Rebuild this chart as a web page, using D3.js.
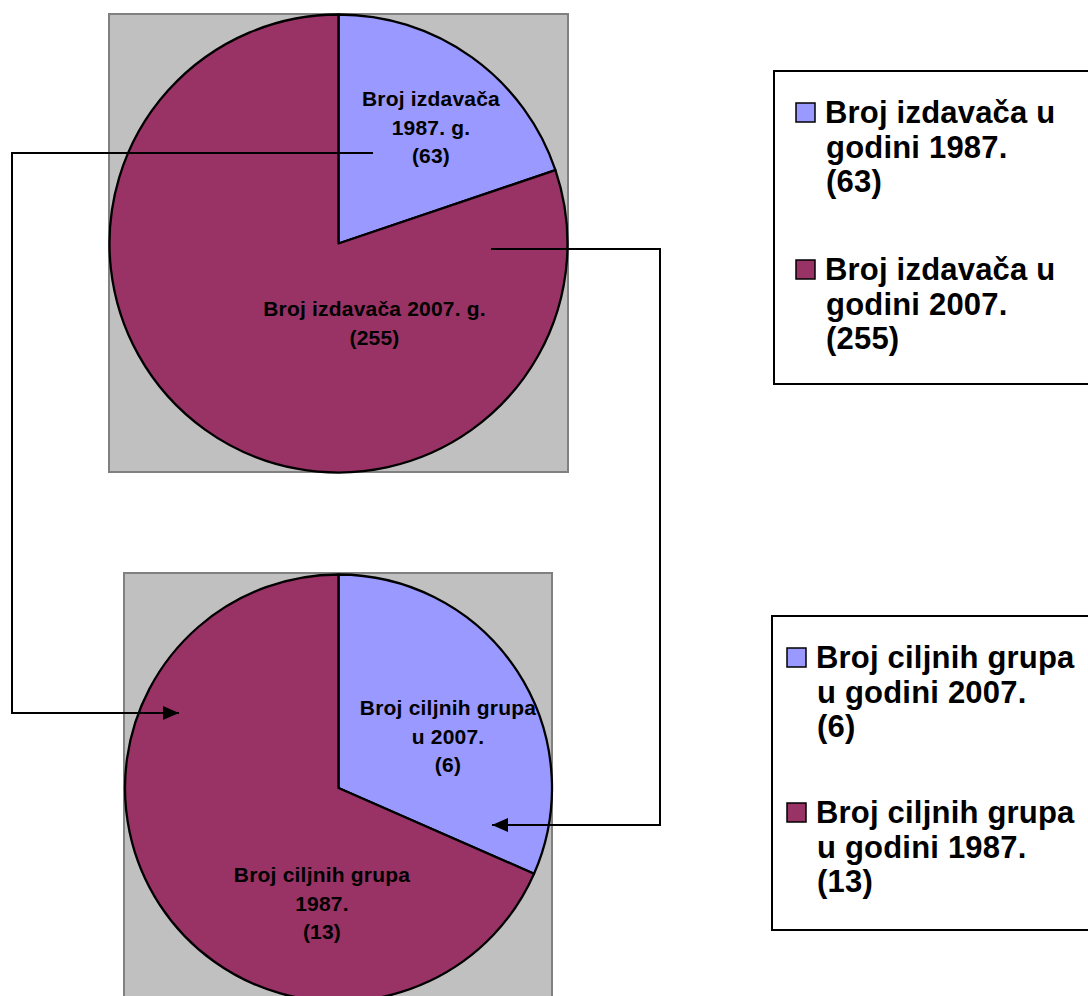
<!DOCTYPE html>
<html><head><meta charset="utf-8">
<script src="https://cdn.jsdelivr.net/npm/d3@7"></script>
<style>body{margin:0;background:#fff}svg{display:block}text{font-family:"Liberation Sans",Arial,sans-serif;font-weight:bold;fill:#000}</style>
</head><body>
<script>
// Data
const pie1Categories = ["Broj izdavača 1987. g.", "Broj izdavača 2007. g."];
const pie1Values = [63, 255];
const pie1SliceLabels = [["Broj izdavača", "1987. g.", "(63)"], ["Broj izdavača 2007. g.", "(255)"]];
const pie1LegendLabels = [["Broj izdavača u", "godini 1987.", "(63)"], ["Broj izdavača u", "godini 2007.", "(255)"]];

const pie2Categories = ["Broj ciljnih grupa u 2007.", "Broj ciljnih grupa 1987."];
const pie2Values = [6, 13];
const pie2SliceLabels = [["Broj ciljnih grupa", "u 2007.", "(6)"], ["Broj ciljnih grupa", "1987.", "(13)"]];
const pie2LegendLabels = [["Broj ciljnih grupa", "u godini 2007.", "(6)"], ["Broj ciljnih grupa", "u godini 1987.", "(13)"]];

const colors = ["#9999FF", "#993366"];

const W = 1088, H = 996;
const svg = d3.select("body").append("svg").attr("width", W).attr("height", H);

const color = d3.scaleOrdinal().domain([0, 1]).range(colors);

function drawPie(cfg) {
  svg.append("rect").attr("x", cfg.rect[0]).attr("y", cfg.rect[1])
    .attr("width", cfg.rect[2]).attr("height", cfg.rect[3])
    .attr("fill", "#C0C0C0").attr("stroke", "#808080").attr("stroke-width", 2);
  const g = svg.append("g").attr("transform", `translate(${cfg.cx},${cfg.cy})`);
  const pie = d3.pie().sort(null).startAngle(0).endAngle(2 * Math.PI)(cfg.values);
  const arc = d3.arc().innerRadius(0).outerRadius(cfg.r);
  g.selectAll("path").data(pie).join("path")
    .attr("d", arc).attr("fill", (d, i) => color(i))
    .attr("stroke", "#000").attr("stroke-width", 2.3).attr("stroke-linejoin", "round");
  cfg.labelPos.forEach((p, i) => {
    const t = svg.append("text").attr("text-anchor", "middle")
      .attr("font-size", cfg.labelSize).attr("letter-spacing", cfg.labelLS);
    cfg.sliceLabels[i].forEach((line, k) => {
      t.append("tspan").attr("x", p[0]).attr("y", p[1] + k * cfg.labelLH).text(line);
    });
  });
}

function drawLegend(cfg) {
  svg.append("rect").attr("x", cfg.box[0]).attr("y", cfg.box[1])
    .attr("width", cfg.box[2]).attr("height", cfg.box[3])
    .attr("fill", "#fff").attr("stroke", "#000").attr("stroke-width", 2);
  cfg.labels.forEach((lines, i) => {
    const y0 = cfg.firstBaseline + i * cfg.itemGap;
    svg.append("rect").attr("x", cfg.swX).attr("y", y0 - 20)
      .attr("width", 19).attr("height", 19)
      .attr("fill", color(i)).attr("stroke", "#000").attr("stroke-width", 1.5);
    const t = svg.append("text").attr("font-size", 31).attr("letter-spacing", 0.2);
    lines.forEach((line, k) => {
      t.append("tspan").attr("x", cfg.textX + (k === 0 ? 0 : 1)).attr("y", y0 + k * 34.5).text(line);
    });
  });
}

drawPie({
  rect: [109, 14, 459, 458], cx: 338.5, cy: 243.5, r: 229,
  values: pie1Values, sliceLabels: pie1SliceLabels,
  labelPos: [[431, 106], [374.5, 316]], labelSize: 21, labelLS: 0.2, labelLH: 28.5
});
drawPie({
  rect: [124, 573, 428, 440], cx: 338.5, cy: 788, r: 213.5,
  values: pie2Values, sliceLabels: pie2SliceLabels,
  labelPos: [[448, 715], [322, 882]], labelSize: 21, labelLS: 0.2, labelLH: 28.5
});

drawLegend({ box: [774, 71, 330, 313], labels: pie1LegendLabels, firstBaseline: 123, itemGap: 157, swX: 796, textX: 825 });
drawLegend({ box: [772, 616, 330, 314], labels: pie2LegendLabels, firstBaseline: 668, itemGap: 155, swX: 787, textX: 816 });

svg.append("defs").append("marker").attr("id", "arr")
  .attr("viewBox", "0 0 16 14").attr("refX", 16).attr("refY", 7)
  .attr("markerWidth", 16).attr("markerHeight", 14).attr("markerUnits", "userSpaceOnUse")
  .attr("orient", "auto")
  .append("path").attr("d", "M0,0L16,7L0,14Z").attr("fill", "#000");

const line = d3.line();
svg.append("path").attr("d", line([[373, 153], [12, 153], [12, 713], [179, 713]]))
  .attr("fill", "none").attr("stroke", "#000").attr("stroke-width", 2).attr("marker-end", "url(#arr)");
svg.append("path").attr("d", line([[491, 249], [660, 249], [660, 825], [492, 825]]))
  .attr("fill", "none").attr("stroke", "#000").attr("stroke-width", 2).attr("marker-end", "url(#arr)");
</script>
</body></html>
